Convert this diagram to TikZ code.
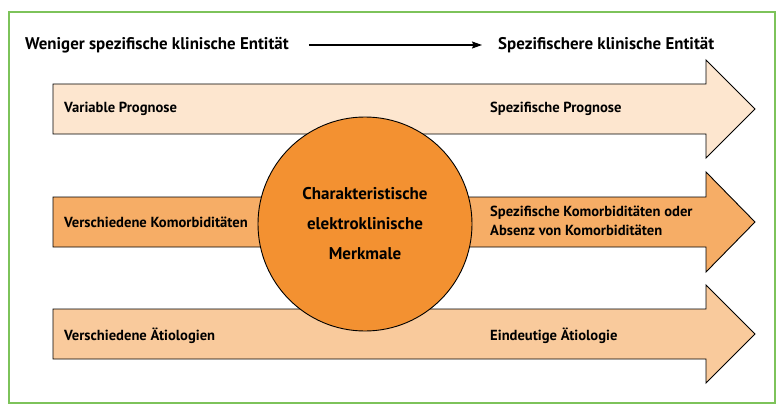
\documentclass[tikz,border=0pt]{standalone}
\usepackage{fontspec}
\setmainfont{PT Sans}
\usetikzlibrary{arrows.meta}
\definecolor{framegreen}{HTML}{7DC35A}
\definecolor{fillA}{HTML}{FDE6CF}
\definecolor{fillB}{HTML}{F6AD66}
\definecolor{fillC}{HTML}{F9CA9C}
\definecolor{circfill}{HTML}{F39131}
\begin{document}
\begin{tikzpicture}[x=1pt,y=-1pt,
  bigarrow/.style={draw=black, line width=0.9pt, line join=miter},
  label/.style={anchor=west, inner sep=0pt, font=\fontsize{14.6}{16}\selectfont\bfseries, align=left},
  heading/.style={anchor=west, inner sep=0pt, font=\fontsize{16.9}{18}\selectfont\bfseries},
  center/.style={circle, draw=black, line width=0.9pt, fill=circfill, minimum size=214pt, inner sep=0pt, align=center, font=\fontsize{17}{30}\selectfont\bfseries}]
\useasboundingbox (0,0) rectangle (777,404);
\draw[framegreen, line width=2pt] (9,12) rectangle (775,402.5);
% heading
\node[heading] (hl) at (25,45) {Weniger spezifische klinische Entität};
\node[heading] (hr) at (498,45) {Spezifischere klinische Entität};
\draw[line width=1.2pt, -{Stealth[length=10pt,width=7pt,inset=1.5pt]}] ([xshift=20pt]hl.east) -- ([xshift=-16pt]hr.west);
% arrows
\draw[bigarrow, fill=fillA] (53,84) -- (706,84) -- (706,60) -- (755,109) -- (706,158) -- (706,134) -- (53,134) -- cycle;
\draw[bigarrow, fill=fillB] (53,197) -- (706,197) -- (706,172) -- (755,222) -- (706,272) -- (706,247) -- (53,247) -- cycle;
\draw[bigarrow, fill=fillC] (53,309) -- (706,309) -- (706,285) -- (755,334) -- (706,383) -- (706,359) -- (53,359) -- cycle;
% circle
\node[center] (c) at (365,224) {Charakteristische\\elektroklinische\\Merkmale};
% labels
\node[label] (a1) at (64,109) {Variable Prognose};
\node[label] (b1) at (490,109) {Spezifische Prognose};
\node[label] (a2) at (64,222) {Verschiedene Komorbiditäten};
\node[label, font=\fontsize{14.6}{19}\selectfont\bfseries] (b2) at (490,221) {Spezifische Komorbiditäten oder\\Absenz von Komorbiditäten};
\node[label] (a3) at (64,336) {Verschiedene Ätiologien};
\node[label] (b3) at (490,336) {Eindeutige Ätiologie};
\end{tikzpicture}
\end{document}
